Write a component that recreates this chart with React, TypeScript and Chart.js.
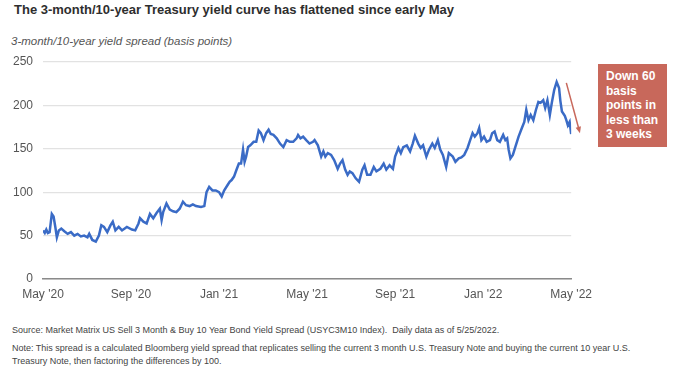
import React, { useEffect, useRef } from "react";
import { Chart, registerables } from "chart.js";

Chart.register(...registerables);

// Months elapsed since May 2020 for each reading
const monthsSinceMay2020 = [
  0, 0.08, 0.15, 0.22, 0.3, 0.4, 0.48, 0.56, 0.63, 0.72, 0.83, 0.97, 1.12, 1.27, 1.42, 1.57, 1.72, 1.87, 2.02, 2.1,
  2.24, 2.4, 2.54, 2.65, 2.77, 2.92, 3.07, 3.17, 3.29, 3.44, 3.59, 3.81, 4.04, 4.19, 4.34, 4.41, 4.56, 4.71, 4.86, 5.01,
  5.16, 5.31, 5.39, 5.46, 5.61, 5.76, 5.91, 6.06, 6.21, 6.36, 6.5, 6.66, 6.81, 6.95, 7.18, 7.33, 7.43, 7.55, 7.7, 7.85,
  8.0, 8.12, 8.23, 8.38, 8.48, 8.57, 8.68, 8.78, 8.9, 9.0, 9.09, 9.16, 9.23, 9.32, 9.42, 9.57, 9.69, 9.8, 9.9, 10.02,
  10.14, 10.25, 10.35, 10.47, 10.62, 10.77, 10.92, 11.07, 11.22, 11.37, 11.52, 11.59, 11.7, 11.82, 11.96, 12.11, 12.27, 12.34, 12.49, 12.64,
  12.74, 12.83, 12.94, 13.09, 13.23, 13.39, 13.5, 13.61, 13.73, 13.84, 13.94, 14.06, 14.21, 14.36, 14.51, 14.61, 14.73, 14.88, 15.03, 15.15,
  15.33, 15.48, 15.6, 15.75, 15.9, 16.0, 16.15, 16.26, 16.37, 16.53, 16.68, 16.8, 16.9, 17.05, 17.16, 17.27, 17.42, 17.54, 17.69, 17.8,
  17.94, 18.05, 18.17, 18.32, 18.44, 18.62, 18.74, 18.89, 19.01, 19.14, 19.29, 19.41, 19.52, 19.62, 19.74, 19.82, 19.92, 20.04, 20.16, 20.31,
  20.41, 20.52, 20.64, 20.76, 20.91, 21.01, 21.09, 21.16, 21.24, 21.35, 21.46, 21.61, 21.76, 21.87, 21.96, 22.06, 22.16, 22.28, 22.4, 22.51,
  22.61, 22.73, 22.82, 22.92, 23.03, 23.12, 23.23, 23.34, 23.45, 23.51, 23.58, 23.71, 23.78, 23.85, 23.93, 24.0,
];

// 3-month/10-year yield spread, basis points
const spreadBp = [
  56, 53, 57, 53, 54, 75, 72, 60, 48, 56, 58, 55, 52, 54, 50, 52, 49, 50, 48, 52,
  45, 43, 50, 62, 60, 54, 62, 66, 56, 60, 56, 60, 57, 56, 64, 70, 66, 64, 75, 70,
  76, 81, 68, 77, 87, 80, 78, 77, 81, 89, 85, 84, 86, 84, 83, 84, 100, 106, 102, 102,
  100, 95, 102, 108, 112, 114, 118, 125, 133, 133, 149, 135, 141, 152, 154, 158, 158, 171, 168, 160,
  168, 172, 167, 166, 162, 156, 152, 160, 158, 158, 162, 166, 162, 164, 160, 156, 158, 160, 154, 141,
  147, 141, 145, 143, 137, 127, 133, 137, 126, 120, 124, 122, 116, 112, 126, 131, 120, 120, 129, 124,
  127, 133, 126, 131, 127, 141, 151, 145, 152, 154, 147, 156, 165, 156, 151, 154, 141, 149, 156, 151,
  160, 149, 143, 129, 145, 141, 135, 139, 140, 143, 151, 160, 168, 164, 168, 174, 160, 164, 158, 160,
  168, 170, 160, 158, 166, 160, 162, 149, 139, 143, 152, 164, 174, 181, 195, 183, 189, 183, 195, 204,
  203, 206, 197, 206, 189, 203, 218, 227, 220, 205, 193, 188, 183, 177, 181, 167,
];

const xTickLabels = ["May '20", "Sep '20", "Jan '21", "May '21", "Sep '21", "Jan '22", "May '22"];
const yTickValues = [0, 50, 100, 150, 200, 250];

// Annotation arrow endpoints in data units (month, bp)
const arrowFrom = [23.78, 226];
const arrowTo = [24.4, 168];

const titleText = "The 3-month/10-year Treasury yield curve has flattened since early May";
const yAxisTitle = "3-month/10-year yield spread (basis points)";
const calloutLines = ["Down 60", "basis", "points in", "less than", "3 weeks"];
const sourceText =
  "Source: Market Matrix US Sell 3 Month & Buy 10 Year Bond Yield Spread (USYC3M10 Index).  Daily data as of 5/25/2022.";
const noteText =
  "Note: This spread is a calculated Bloomberg yield spread that replicates selling the current 3 month U.S. Treasury Note and buying the current 10 year U.S. Treasury Note, then factoring the differences by 100.";

const RED = "#c8685b";

const arrowPlugin = {
  id: "arrowPlugin",
  afterDraw(chart: any) {
    const { ctx, scales } = chart;
    const x1 = scales.x.getPixelForValue(arrowFrom[0]);
    const y1 = scales.y.getPixelForValue(arrowFrom[1]);
    const x2 = scales.x.getPixelForValue(arrowTo[0]);
    const y2 = scales.y.getPixelForValue(arrowTo[1]);
    const ang = Math.atan2(y2 - y1, x2 - x1);
    const head = 7;
    ctx.save();
    ctx.strokeStyle = RED;
    ctx.fillStyle = RED;
    ctx.lineWidth = 1.5;
    ctx.beginPath();
    ctx.moveTo(x1, y1);
    ctx.lineTo(x2 - Math.cos(ang) * head * 0.8, y2 - Math.sin(ang) * head * 0.8);
    ctx.stroke();
    ctx.beginPath();
    ctx.moveTo(x2, y2);
    ctx.lineTo(x2 - head * Math.cos(ang - 0.4), y2 - head * Math.sin(ang - 0.4));
    ctx.lineTo(x2 - head * Math.cos(ang + 0.4), y2 - head * Math.sin(ang + 0.4));
    ctx.closePath();
    ctx.fill();
    ctx.restore();
  },
};

export default function App() {
  const canvasRef = useRef<HTMLCanvasElement | null>(null);

  useEffect(() => {
    document.body.style.margin = "0";
    const canvas = canvasRef.current;
    if (!canvas) return;
    const points = monthsSinceMay2020.map((m, i) => ({ x: m, y: spreadBp[i] }));
    const chart = new Chart(canvas, {
      type: "line",
      data: {
        datasets: [
          {
            data: points,
            borderColor: "#3a6bc6",
            borderWidth: 2.5,
            pointRadius: 0,
            tension: 0,
            fill: false,
          },
        ],
      },
      options: {
        animation: false,
        responsive: false,
        maintainAspectRatio: false,
        layout: { padding: { top: 62, right: 22, left: 0, bottom: 0 } },
        plugins: { legend: { display: false }, tooltip: { enabled: false }, title: { display: false } },
        scales: {
          x: {
            type: "linear",
            min: 0,
            max: 24,
            afterBuildTicks(scale: any) {
              scale.ticks = xTickLabels.map((_, i) => ({ value: i * 4 }));
            },
            afterFit(scale: any) {
              scale.height = 22;
            },
            grid: { display: false, drawTicks: false },
            border: { display: true, color: "#8a8a8a", width: 1.5 },
            ticks: {
              padding: 8,
              maxRotation: 0,
              autoSkip: false,
              color: "#555",
              font: { family: "'Liberation Sans', Arial, sans-serif", size: 12 },
              callback: (_v: any, i: number) => xTickLabels[i],
            },
          },
          y: {
            min: 0,
            max: 250,
            afterBuildTicks(scale: any) {
              scale.ticks = yTickValues.map((v) => ({ value: v }));
            },
            afterFit(scale: any) {
              scale.width = 43;
            },
            grid: { color: "#e2e2e2", lineWidth: 1.2, drawTicks: false },
            border: { display: false },
            ticks: {
              padding: 10,
              color: "#555",
              font: { family: "'Liberation Sans', Arial, sans-serif", size: 12 },
            },
          },
        },
      },
      plugins: [arrowPlugin],
    });
    return () => chart.destroy();
  }, []);

  return (
    <div style={{ position: "absolute", left: 0, top: 0, width: 680, height: 373, background: "#fff", overflow: "hidden" }}>
      <div
        style={{
          position: "absolute",
          left: 14,
          top: 2,
          fontFamily: "'Liberation Sans', Arial, sans-serif",
          fontWeight: "bold",
          fontSize: 13,
          color: "#2e2e2e",
          whiteSpace: "nowrap",
        }}
      >
        {titleText}
      </div>
      <div
        style={{
          position: "absolute",
          left: 11,
          top: 35,
          fontFamily: "'Liberation Sans', Arial, sans-serif",
          fontStyle: "italic",
          fontSize: 11.5,
          color: "#555",
          whiteSpace: "nowrap",
        }}
      >
        {yAxisTitle}
      </div>
      <canvas
        ref={canvasRef}
        width={600}
        height={301}
        style={{ position: "absolute", left: 0, top: 0, width: 600, height: 301 }}
      />
      <div
        style={{
          position: "absolute",
          left: 598,
          top: 64,
          width: 69,
          height: 83,
          background: RED,
          boxSizing: "border-box",
          padding: "5px 0 0 8px",
          fontFamily: "'Liberation Sans', Arial, sans-serif",
          fontWeight: "bold",
          fontSize: 12,
          lineHeight: "14.5px",
          color: "#fff",
        }}
      >
        {calloutLines.map((l, i) => (
          <div key={i}>{l}</div>
        ))}
      </div>
      <div
        style={{
          position: "absolute",
          left: 12,
          top: 324,
          width: 640,
          fontFamily: "'Liberation Sans', Arial, sans-serif",
          fontSize: 9,
          lineHeight: "13px",
          color: "#444",
        }}
      >
        <div style={{ whiteSpace: "pre" }}>{sourceText}</div>
        <div style={{ marginTop: 5 }}>{noteText}</div>
      </div>
    </div>
  );
}
